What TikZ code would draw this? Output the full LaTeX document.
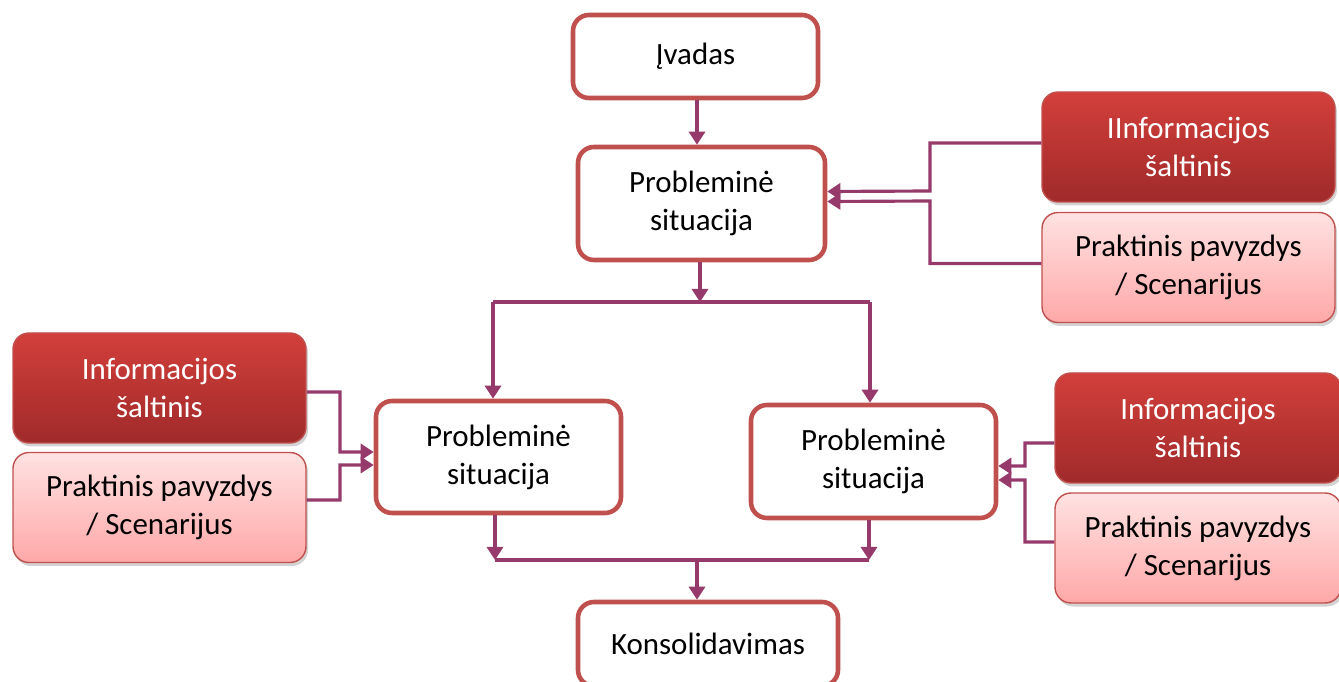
\documentclass[tikz,border=0pt]{standalone}
\usepackage{fontspec}
\setmainfont{Carlito}
\usepackage{tikz}
\usetikzlibrary{calc, positioning, arrows.meta, shadows}

\definecolor{boxred}{HTML}{C0504D}
\definecolor{linkplum}{HTML}{953A6B}
\definecolor{darktop}{HTML}{D23F3B}
\definecolor{darkbot}{HTML}{A02A2A}
\definecolor{lighttop}{HTML}{FFE2E2}
\definecolor{lightbot}{HTML}{FFA8A8}

\begin{document}
\begin{tikzpicture}[
    >={Triangle[length=0.13cm, width=0.16cm]},
    font=\fontsize{8.8}{10.8}\selectfont,
    stage/.style={draw=boxred, line width=1.3pt, fill=white, rounded corners=0.16cm,
        align=center, inner sep=0pt},
    source/.style={draw=boxred, line width=0.4pt, rounded corners=0.16cm, align=center,
        inner sep=0pt, minimum width=2.93cm, minimum height=1.1cm, text=white,
        top color=darktop, bottom color=darkbot,
        drop shadow={shadow xshift=0.02cm, shadow yshift=-0.035cm, opacity=0.35}},
    example/.style={source, text=black, top color=lighttop, bottom color=lightbot},
    conn/.style={draw=linkplum, line width=0.9pt}
]

    % Frame
    \useasboundingbox (0, 0) rectangle (13.39, 6.81);

    % Main stages
    \node[stage, minimum width=2.45cm, minimum height=0.83cm] (ivadas) at (6.955, 6.245) {Įvadas};
    \node[stage, minimum width=2.47cm, minimum height=1.13cm] (prob) at (7.015, 4.775) {Probleminė\\situacija};
    \node[stage, minimum width=2.45cm, minimum height=1.12cm] (probL) at (4.985, 2.24) {Probleminė\\situacija};
    \node[stage, minimum width=2.45cm, minimum height=1.13cm] (probR) at (8.735, 2.195) {Probleminė\\situacija};
    \node[stage, minimum width=2.6cm, minimum height=0.84cm] (kons) at (7.08, 0.37) {Konsolidavimas};

    % Sources (top right)
    \node[source] (infoT) at (11.885, 5.34) {IInformacijos\\šaltinis};
    \node[example] (praktT) at (11.885, 4.135) {Praktinis pavyzdys\\/ Scenarijus};

    % Sources (left)
    \node[source] (infoL) at (1.595, 2.93) {Informacijos\\šaltinis};
    \node[example] (praktL) at (1.595, 1.735) {Praktinis pavyzdys\\/ Scenarijus};

    % Sources (bottom right)
    \node[source, minimum width=2.86cm] (infoR) at (11.98, 2.53) {Informacijos\\šaltinis};
    \node[example, minimum width=2.86cm] (praktR) at (11.98, 1.33) {Praktinis pavyzdys\\/ Scenarijus};

    % Split and join points
    \coordinate (split) at (7.0, 3.79);
    \coordinate (splitL) at (4.93, 3.79);
    \coordinate (splitR) at (8.70, 3.79);
    \coordinate (join) at (6.97, 1.21);
    \coordinate (joinL) at (4.95, 1.21);
    \coordinate (joinR) at (8.69, 1.21);

    % Main flow
    \draw[conn, ->] (ivadas.south -| join) -- (join |- prob.north);
    \draw[conn, ->] (prob.south -| split) -- (split);
    \draw[conn] (splitL) -- (splitR);
    \draw[conn, ->] (splitL) -- (splitL |- probL.north);
    \draw[conn, ->] (splitR) -- (splitR |- probR.north);
    \draw[conn, ->] (probL.south -| joinL) -- (joinL);
    \draw[conn, ->] (probR.south -| joinR) -- (joinR);
    \draw[conn] (joinL) -- (joinR);
    \draw[conn, ->] (join) -- (join |- kons.north);

    % Inputs to the top stage
    \draw[conn, ->] ([yshift=0.04cm]infoT.west) -| (9.30, 4.90) -- ([yshift=0.12cm]prob.east);
    \draw[conn, ->] ([yshift=0.04cm]praktT.west) -| (9.30, 4.80) -- ([yshift=0.02cm]prob.east);

    % Inputs to the left stage
    \draw[conn, ->] ([yshift=-0.04cm]infoL.east) -| (3.40, 2.29) -- ([yshift=0.05cm]probL.west);
    \draw[conn, ->] ([yshift=0.075cm]praktL.east) -| (3.40, 2.16) -- ([yshift=-0.08cm]probL.west);

    % Inputs to the right stage
    \draw[conn, ->] ([yshift=-0.15cm]infoR.west) -| (10.25, 2.15) -- ([yshift=-0.045cm]probR.east);
    \draw[conn, ->] ([yshift=0.06cm]praktR.west) -| (10.25, 2.01) -- ([yshift=-0.185cm]probR.east);

\end{tikzpicture}
\end{document}
